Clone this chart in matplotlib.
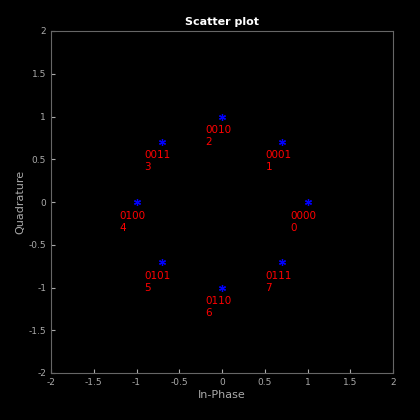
import numpy as np
import matplotlib
matplotlib.use("Agg")
import matplotlib.pyplot as plt

symbols = [0, 1, 2, 3, 4, 5, 6, 7]
bits = ["0000", "0001", "0010", "0011", "0100", "0101", "0110", "0111"]
i_vals = [1.0, 0.7071, 0.0, -0.7071, -1.0, -0.7071, 0.0, 0.7071]
q_vals = [0.0, 0.7071, 1.0, 0.7071, 0.0, -0.7071, -1.0, -0.7071]
ticks = [-2, -1.5, -1, -0.5, 0, 0.5, 1, 1.5, 2]
tick_labels = ["-2", "-1.5", "-1", "-0.5", "0", "0.5", "1", "1.5", "2"]

fig = plt.figure(figsize=(4.2, 4.2), dpi=100, facecolor="black")
ax = fig.add_axes([51/420, 47/420, 342/420, 342/420], facecolor="black")
ax.plot(i_vals, q_vals, marker=(6, 2, 0), color="blue", markersize=5, linestyle="none", markeredgewidth=0.9)
for x, y, b, s in zip(i_vals, q_vals, bits, symbols):
    ax.text(x - 0.2, y - 0.1, f"{b}\n{s}", color="red", fontsize=7.5, va="top", ha="left", linespacing=1.3)
ax.set_xlim(-2, 2)
ax.set_ylim(-2, 2)
ax.set_xticks(ticks)
ax.set_xticklabels(tick_labels)
ax.set_yticks(ticks)
ax.set_yticklabels(tick_labels)
for sp in ax.spines.values():
    sp.set_color("#666666")
ax.tick_params(colors="#aaaaaa", labelsize=6.5, direction="in", length=3)
ax.set_xlabel("In-Phase", color="#aaaaaa", fontsize=8, labelpad=2)
ax.set_ylabel("Quadrature", color="#aaaaaa", fontsize=8, labelpad=2)
ax.set_title("Scatter plot", color="white", fontsize=8, fontweight="bold", pad=4)
fig.savefig("out.png", facecolor="black")
